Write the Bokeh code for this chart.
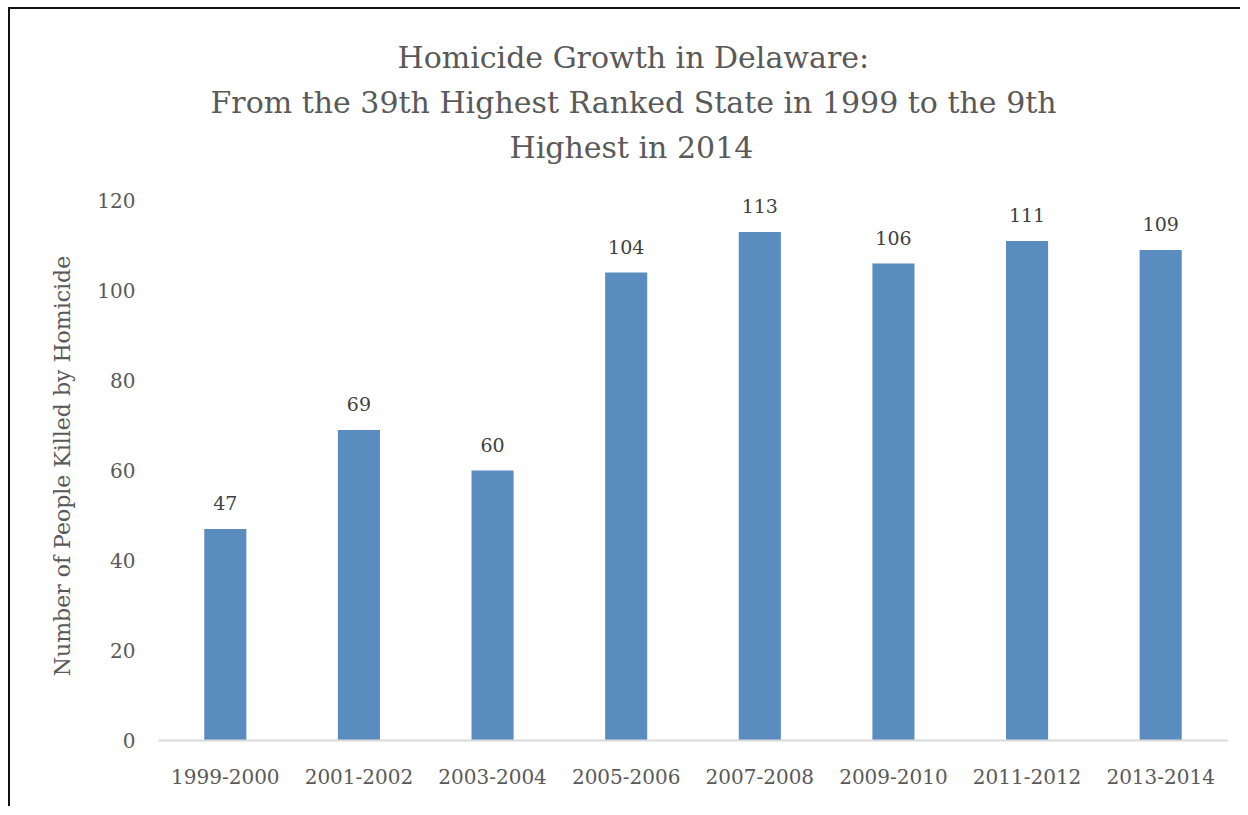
from bokeh.plotting import figure
from bokeh.models import ColumnDataSource, LabelSet, Title, FactorRange, Range1d
from bokeh.core.properties import value
from bokeh.embed import file_html
from bokeh.resources import INLINE

periods = ["1999-2000", "2001-2002", "2003-2004", "2005-2006",
           "2007-2008", "2009-2010", "2011-2012", "2013-2014"]
killed = [47, 69, 60, 104, 113, 106, 111, 109]
y_ticks = [0, 20, 40, 60, 80, 100, 120]
title_lines = ["Homicide Growth in Delaware:",
               "From the 39th Highest Ranked State in 1999 to the 9th",
               "Highest in 2014"]
y_label = "Number of People Killed by Homicide"

FONT = "DejaVu Serif"
BAR = "#5B8CBF"
GRAY = "#595959"

src = ColumnDataSource(dict(x=periods, y=killed, lab=[str(v) for v in killed]))

# y range slightly above the top tick so the value labels are not clipped
p = figure(width=1232, height=799, x_range=FactorRange(*periods, range_padding=0),
           y_range=Range1d(0, 122), output_backend="svg", toolbar_location=None,
           min_border_left=148, min_border_right=15, min_border_top=182,
           min_border_bottom=68)
p.styles = {"margin-left": "8px", "margin-top": "7px",
            "border-left": "2px solid #111", "border-top": "2px solid #111"}
p.outline_line_color = None
p.grid.grid_line_color = None

p.vbar(x="x", top="y", width=0.315, source=src, fill_color=BAR, line_color=None)

labels = LabelSet(x="x", y="y", text="lab", source=src, text_align="center",
                  text_baseline="bottom", y_offset=19, text_font=value(FONT),
                  text_font_size="19px", text_color="#404040")
p.add_layout(labels)

# title lines: the chart title is centred over the whole chart area
# (left offsets from the frame's left edge give that centring)
def style_title(t, offset, standoff):
    t.align = "left"
    t.offset = offset
    t.standoff = standoff
    t.text_font = FONT
    t.text_font_size = "30px"
    t.text_font_style = "normal"
    t.text_color = GRAY

p.title.text = title_lines[0]
style_title(p.title, 239, 8)

spacer = Title(text=" ", text_font_size="1px", standoff=20)
p.add_layout(spacer, "above")
t3 = Title(text=title_lines[2])
style_title(t3, 351, 8)
p.add_layout(t3, "above")
t2 = Title(text=title_lines[1])
style_title(t2, 52, 8)
p.add_layout(t2, "above")

p.yaxis.ticker = y_ticks
p.yaxis.axis_line_color = None
p.yaxis.major_tick_line_color = None
p.yaxis.minor_tick_line_color = None
p.yaxis.major_label_standoff = 17
p.yaxis.axis_label = y_label
p.yaxis.axis_label_standoff = 19
p.yaxis.axis_label_text_font_style = "normal"

p.xaxis.axis_line_color = "#D9D9D9"
p.xaxis.axis_line_width = 2
p.xaxis.major_tick_line_color = None
p.xaxis.minor_tick_line_color = None
p.xaxis.major_label_standoff = 22

for ax in (p.xaxis[0], p.yaxis[0]):
    ax.major_label_text_font = FONT
    ax.major_label_text_font_size = "20px"
    ax.major_label_text_color = GRAY
    ax.axis_label_text_font = FONT
    ax.axis_label_text_font_size = "22px"
    ax.axis_label_text_color = GRAY

open("out.html", "w").write(file_html(p, INLINE))
